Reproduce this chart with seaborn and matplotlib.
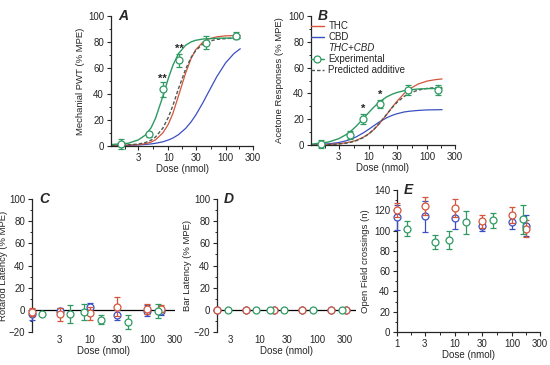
import numpy as np
import matplotlib
matplotlib.use('Agg')
import matplotlib.pyplot as plt
from matplotlib.lines import Line2D
from matplotlib.ticker import MultipleLocator, FixedLocator, NullFormatter
import seaborn as sns

sns.set_style('ticks')
plt.rcParams['font.family'] = ['Liberation Sans', 'DejaVu Sans']

# colours
C_THC = '#d4553a'
C_CBD = '#3a50c2'
C_MIX = '#2e9a62'
C_PRED = '#4d5a52'

# doses (nmol)
dose_single = [1, 3, 10, 30, 100, 170]
dose_mix = [1.5, 4.6, 8, 15.4, 46, 150]
curve_dose = [1, 2, 3, 4, 5, 6, 8, 10, 12, 15, 20, 25, 30, 40, 50, 70, 100, 140, 180]

# A: mechanical PWT
a_mix = [1.5, 9, 43.5, 66, 79.5, 85]
a_mix_err = [4, 2, 6, 5, 5, 3]
a_fit_mix = [1.1, 2.1, 4.7, 8.5, 14, 21.5, 38, 52, 62, 71, 77.5, 80.1, 81.3, 82.3, 82.5, 82.9, 83, 83, 83]
a_fit_thc = [0.5, 0.7, 1.1, 1.8, 3, 4.8, 10, 16.7, 25, 38.4, 56, 67.4, 74, 79.9, 82.3, 84, 84.7, 85, 85]
a_fit_pred = [0.5, 0.9, 1.5, 2.7, 4.5, 7, 13.7, 22, 31, 44, 59, 68.2, 73.4, 78.4, 80.5, 82, 82.6, 83, 83]
a_fit_cbd = [0.3, 0.5, 0.8, 1.2, 1.6, 2.1, 3.2, 4.6, 6.1, 8.7, 13.5, 18.6, 23.7, 33.2, 41.3, 53.3, 64, 71.2, 74.8]

# B: acetone responses
b_mix = [1, 7.7, 20, 31.5, 42.5, 42.5]
b_mix_err = [3, 3, 4, 3, 4, 4]
b_fit_mix = [0.6, 2.3, 4.9, 8, 11.3, 14.6, 20.7, 25.5, 29.3, 33.3, 37.3, 39.4, 40.7, 42.1, 42.8, 43.4, 43.7, 43.8, 44]
b_fit_thc = [0.1, 0.4, 0.95, 1.7, 2.6, 3.6, 6.1, 8.9, 11.9, 16.5, 23.5, 29.4, 33.8, 39.9, 43.6, 47.3, 49.6, 50.7, 51.2]
b_fit_pred = [0.1, 0.3, 0.8, 1.4, 2.3, 3.3, 5.8, 8.8, 12, 16.8, 23.8, 29.1, 32.9, 37.7, 40.2, 42.6, 43.9, 44.5, 44.7]
b_fit_cbd = [0.2, 0.9, 1.9, 3.2, 4.7, 6.3, 9.5, 12.4, 14.9, 17.9, 21.1, 23, 24.2, 25.6, 26.2, 26.8, 27.2, 27.3, 27.4]

# C: rotarod
c_thc = [-2, -4, -3, 3, 1, 1]
c_thc_err = [4, 6, 6, 9, 4.5, 3]
c_cbd = [-4, -1, 3, -5, -1, -1]
c_cbd_err = [5, 3, 3, 4.5, 5, 4]
c_mix = [-4, -4, -2, -9, -11, -1]
c_mix_err = [1, 8, 7, 4, 6, 6]

# D: bar latency
d_dose_single = [1.76, 5.6, 17.8, 55, 173, 317]
d_dose_mix = [2.7, 8.5, 15, 26.7, 85, 270]
d_single = [0, 0, 0, 0, 0, 0]
d_mix = [0, 0, 0, 0, 0, 0]

# E: open field
e_thc = [120, 124, 122, 109, 115, 102]
e_thc_err = [7, 9, 9, 6, 8, 8]
e_cbd = [113, 114, 112, 105, 108, 105]
e_cbd_err = [12, 15, 10, 5, 6, 10]
e_mix = [102, 89, 91, 108, 110, 111]
e_mix_err = [7, 7, 9, 11, 7, 14]

xticks = [3, 10, 30, 100, 300]
xticklabels = ['3', '10', '30', '100', '300']
x_minor = [1.73, 5.48, 17.3, 54.8, 173]

W, H = 550, 365
fig = plt.figure(figsize=(W / 100, H / 100), dpi=100)


def rect(l, r, t, b):
    return [l / W, 1 - b / H, (r - l) / W, (b - t) / H]


def style(ax, letter, ylabel, ylim, yticks, xlim, ylab_x, ticks=xticks, labels=xticklabels):
    ax.set_xscale('log')
    ax.set_xlim(*xlim)
    ax.set_ylim(*ylim)
    ax.set_xticks(ticks)
    ax.set_xticklabels(labels)
    ax.xaxis.set_minor_locator(FixedLocator(x_minor))
    ax.xaxis.set_minor_formatter(NullFormatter())
    ax.set_yticks(yticks)
    ax.yaxis.set_minor_locator(MultipleLocator(10))
    ax.tick_params(which='major', labelsize=7, length=3, width=0.8, pad=2)
    ax.tick_params(which='minor', length=1.8, width=0.7)
    for s in ['top', 'right']:
        ax.spines[s].set_visible(False)
    for s in ['left', 'bottom']:
        ax.spines[s].set_linewidth(0.9)
    ax.set_xlabel('Dose (nmol)', fontsize=7, labelpad=1)
    ax.set_ylabel(ylabel, fontsize=6.8)
    ax.yaxis.set_label_coords(ylab_x, 0.5)
    ax.text(0.05, 1.0, letter, transform=ax.transAxes, fontsize=10,
            fontweight='bold', fontstyle='italic', va='center', ha='left')


def points(ax, x, y, err, color, z=3):
    ax.errorbar(x, y, yerr=err, fmt='o', ms=5, mfc='white', mec=color,
                mew=0.9, ecolor=color, elinewidth=0.9, capsize=2,
                capthick=0.9, clip_on=False, zorder=z)


def curves(ax, mix, thc, pred, cbd):
    sns.lineplot(x=curve_dose, y=cbd, ax=ax, color=C_CBD, lw=0.9, zorder=2)
    sns.lineplot(x=curve_dose, y=thc, ax=ax, color=C_THC, lw=0.9, zorder=2)
    sns.lineplot(x=curve_dose, y=pred, ax=ax, color=C_PRED, lw=1.0,
                 linestyle=(0, (2.5, 1.5)), zorder=2)
    sns.lineplot(x=curve_dose, y=mix, ax=ax, color=C_MIX, lw=1.0, zorder=2)


# ---- A
ax = fig.add_axes(rect(111, 253, 16, 146))
curves(ax, a_fit_mix, a_fit_thc, a_fit_pred, a_fit_cbd)
points(ax, dose_mix, a_mix, a_mix_err, C_MIX)
ax.text(dose_mix[2], 52, '**', ha='center', va='center', fontsize=8, fontweight='bold')
ax.text(dose_mix[3], 75, '**', ha='center', va='center', fontsize=8, fontweight='bold')
style(ax, 'A', 'Mechanial PWT (% MPE)', (0, 100), [0, 20, 40, 60, 80, 100], (1, 300), -0.18)

# ---- B
ax = fig.add_axes(rect(311, 455, 16, 145))
curves(ax, b_fit_mix, b_fit_thc, b_fit_pred, b_fit_cbd)
points(ax, dose_mix, b_mix, b_mix_err, C_MIX)
ax.text(dose_mix[2], 28, '*', ha='center', va='center', fontsize=8, fontweight='bold')
ax.text(dose_mix[3], 39, '*', ha='center', va='center', fontsize=8, fontweight='bold')
style(ax, 'B', 'Acetone Responses (% MPE)', (0, 100), [0, 20, 40, 60, 80, 100], (1, 300), -0.19)
handles = [Line2D([], [], color=C_THC, lw=1),
           Line2D([], [], color=C_CBD, lw=1),
           Line2D([], [], color='none'),
           Line2D([], [], color=C_MIX, lw=1, marker='o', ms=5, mfc='white', mew=0.9),
           Line2D([], [], color=C_PRED, lw=1, linestyle=(0, (2.5, 1.5)))]
leg = ax.legend(handles, ['THC', 'CBD', 'THC+CBD', 'Experimental', 'Predicted additive'],
                loc='upper left', bbox_to_anchor=(0.0, 0.96), frameon=False,
                fontsize=7, handlelength=1.3, handletextpad=0.5,
                labelspacing=0.1, borderaxespad=0, borderpad=0)
leg.get_texts()[2].set_fontstyle('italic')

# ---- C
ax = fig.add_axes(rect(32, 175, 199, 332))
ax.axhline(0, color='black', lw=0.9, zorder=1)
points(ax, dose_single, c_cbd, c_cbd_err, C_CBD, z=3)
points(ax, dose_single, c_thc, c_thc_err, C_THC, z=4)
points(ax, dose_mix, c_mix, c_mix_err, C_MIX, z=5)
style(ax, 'C', 'Rotarod Latency (% MPE)', (-20, 100), [-20, 0, 20, 40, 60, 80, 100], (1, 300), -0.165)
ax.spines['bottom'].set_visible(False)
ax.tick_params(axis='x', which='both', length=0)

# ---- D
ax = fig.add_axes(rect(217, 356, 199, 332))
ax.axhline(0, color='black', lw=0.9, zorder=1)
points(ax, d_dose_single, d_single, None, C_CBD, z=3)
points(ax, d_dose_single, d_single, None, C_THC, z=4)
points(ax, d_dose_mix, d_mix, None, C_MIX, z=5)
style(ax, 'D', 'Bar Latency (% MPE)', (-20, 100), [-20, 0, 20, 40, 60, 80, 100], (1.75, 480), -0.18)
ax.spines['bottom'].set_visible(False)
ax.tick_params(axis='x', which='both', length=0)

# ---- E
ax = fig.add_axes(rect(397, 540, 190, 332))
points(ax, dose_single, e_cbd, e_cbd_err, C_CBD, z=3)
points(ax, dose_single, e_thc, e_thc_err, C_THC, z=4)
points(ax, dose_mix, e_mix, e_mix_err, C_MIX, z=5)
style(ax, 'E', 'Open Field crossings (n)', (0, 140), [0, 20, 40, 60, 80, 100, 120, 140], (1, 300), -0.19,
      ticks=[1, 3, 10, 30, 100, 300], labels=['1', '3', '10', '30', '100', '300'])

fig.savefig('out.png', dpi=100)
